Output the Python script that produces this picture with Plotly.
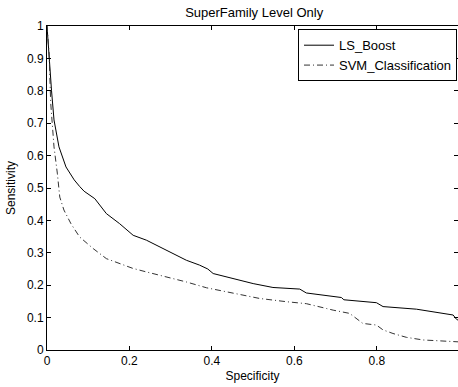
import plotly.graph_objects as go

title_text = "SuperFamily Level Only"
x_label = "Specificity"
y_label = "Sensitivity"

ls_boost_x = [0.0, 0.002, 0.005, 0.011, 0.017, 0.029, 0.046, 0.066, 0.079, 0.09, 0.116, 0.144,
              0.176, 0.209, 0.241, 0.273, 0.306, 0.338, 0.37, 0.39, 0.403, 0.451, 0.50, 0.548,
              0.613, 0.629, 0.682, 0.714, 0.72, 0.799, 0.815, 0.896, 0.985, 0.993, 1.0]
ls_boost_y = [1.0, 0.96, 0.895, 0.80, 0.71, 0.627, 0.565, 0.525, 0.505, 0.49, 0.467, 0.421,
              0.39, 0.354, 0.339, 0.318, 0.298, 0.277, 0.262, 0.25, 0.236, 0.221, 0.205, 0.193,
              0.188, 0.176, 0.168, 0.162, 0.155, 0.146, 0.134, 0.126, 0.108, 0.095, 0.09]

svm_x = [0.0, 0.005, 0.009, 0.017, 0.025, 0.031, 0.041, 0.058, 0.079, 0.112, 0.144, 0.176,
         0.208, 0.241, 0.29, 0.338, 0.387, 0.451, 0.516, 0.581, 0.629, 0.678, 0.694, 0.734,
         0.75, 0.766, 0.799, 0.815, 0.839, 0.872, 0.912, 0.993, 1.0]
svm_y = [1.0, 0.917, 0.762, 0.627, 0.546, 0.472, 0.432, 0.39, 0.349, 0.313, 0.282, 0.267,
         0.252, 0.241, 0.226, 0.21, 0.192, 0.175, 0.159, 0.149, 0.143, 0.128, 0.123, 0.113,
         0.098, 0.082, 0.077, 0.062, 0.051, 0.039, 0.031, 0.026, 0.025]

x_ticks = [0, 0.2, 0.4, 0.6, 0.8, 1]
x_tick_text = ["0", "0.2", "0.4", "0.6", "0.8", "1"]
y_ticks = [0, 0.1, 0.2, 0.3, 0.4, 0.5, 0.6, 0.7, 0.8, 0.9, 1]
y_tick_text = ["0", "0.1", "0.2", "0.3", "0.4", "0.5", "0.6", "0.7", "0.8", "0.9", "1"]

FONT = "Liberation Sans, Arial, Helvetica, sans-serif"

fig = go.Figure()
fig.add_trace(go.Scatter(x=ls_boost_x, y=ls_boost_y, mode="lines", name="LS_Boost",
                         line=dict(color="black", width=1)))
fig.add_trace(go.Scatter(x=svm_x, y=svm_y, mode="lines", name="SVM_Classification",
                         line=dict(color="#333333", width=1, dash="6px,3px,1px,3px")))

axis_common = dict(showline=True, linecolor="black", linewidth=1, mirror="ticks",
                   ticks="inside", ticklen=4, tickcolor="black", tickwidth=1,
                   showgrid=False, zeroline=False,
                   tickfont=dict(family=FONT, size=12, color="black"))

fig.update_layout(
    width=458, height=387,
    margin=dict(l=47, r=0, t=26, b=37),
    paper_bgcolor="white", plot_bgcolor="white",
    font=dict(family=FONT, size=12, color="black"),
    title=dict(text=title_text, x=0.504, xref="paper", y=1 - 12 / 387, yref="container",
               xanchor="center", yanchor="middle", font=dict(family=FONT, size=13, color="black")),
    xaxis=dict(range=[0, 0.9968], tickvals=x_ticks, ticktext=x_tick_text,
               title=dict(text=x_label, standoff=4, font=dict(family=FONT, size=12)), **axis_common),
    yaxis=dict(range=[0, 1], tickvals=y_ticks, ticktext=y_tick_text,
               title=dict(text=y_label, standoff=8, font=dict(family=FONT, size=12)), **axis_common),
    legend=dict(x=0.9976, xanchor="right", y=0.99, yanchor="top",
                bgcolor="white", bordercolor="black", borderwidth=1,
                font=dict(family=FONT, size=13, color="black"), tracegroupgap=0),
    showlegend=True,
)

fig.write_html("out.html")
